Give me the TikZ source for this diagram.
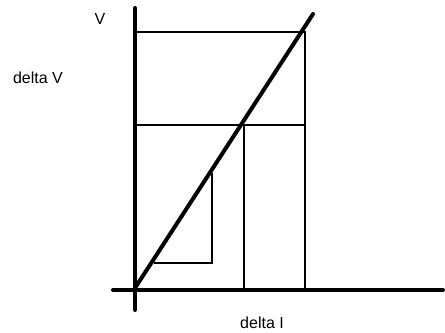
\documentclass[tikz,border=0pt]{standalone}
\usepackage{fontspec}
\setmainfont{Liberation Sans}
\usepackage{tikz}
\usetikzlibrary{positioning}

\begin{document}
\begin{tikzpicture}[
x=0.75pt,y=-0.75pt,
axis/.style={line width=3pt,line cap=round},
curve/.style={line width=3pt,line cap=round},
guide/.style={line width=1.1pt},
lbl/.style={inner sep=0pt,font=\fontsize{12}{14}\selectfont}]
\useasboundingbox (0,0) rectangle (445,332);
% axes
\coordinate (o) at (135,290);
\coordinate (ytop) at (135,8);
\coordinate (ybot) at (135,310);
\coordinate (xleft) at (113,290);
\coordinate (xright) at (443,290);
\draw[axis] (ytop)--(ybot);
\draw[axis] (xleft)--(xright);
% straight line
\coordinate (lstart) at (135,288);
\coordinate (lend) at (313,14);
\draw[curve] (lstart)--(lend);
% big steps
\coordinate (hi) at (305,32);
\coordinate (mid) at (305,125);
\coordinate (m1) at (244,125);
\draw[guide] (135,32)--(hi)--(305,290);
\draw[guide] (135,125)--(mid);
\draw[guide] (m1)--(244,290);
% small step
\coordinate (s1) at (212,173);
\coordinate (s2) at (212,263);
\coordinate (s3) at (154,263);
\draw[guide] (s1)--(s2)--(s3);
% labels
\node[lbl] (vlab) at (100,19) {V};
\node[lbl] (dvlab) at (38,78) {delta V};
\node[lbl] (dilab) at (262,323) {delta I};
\end{tikzpicture}
\end{document}
